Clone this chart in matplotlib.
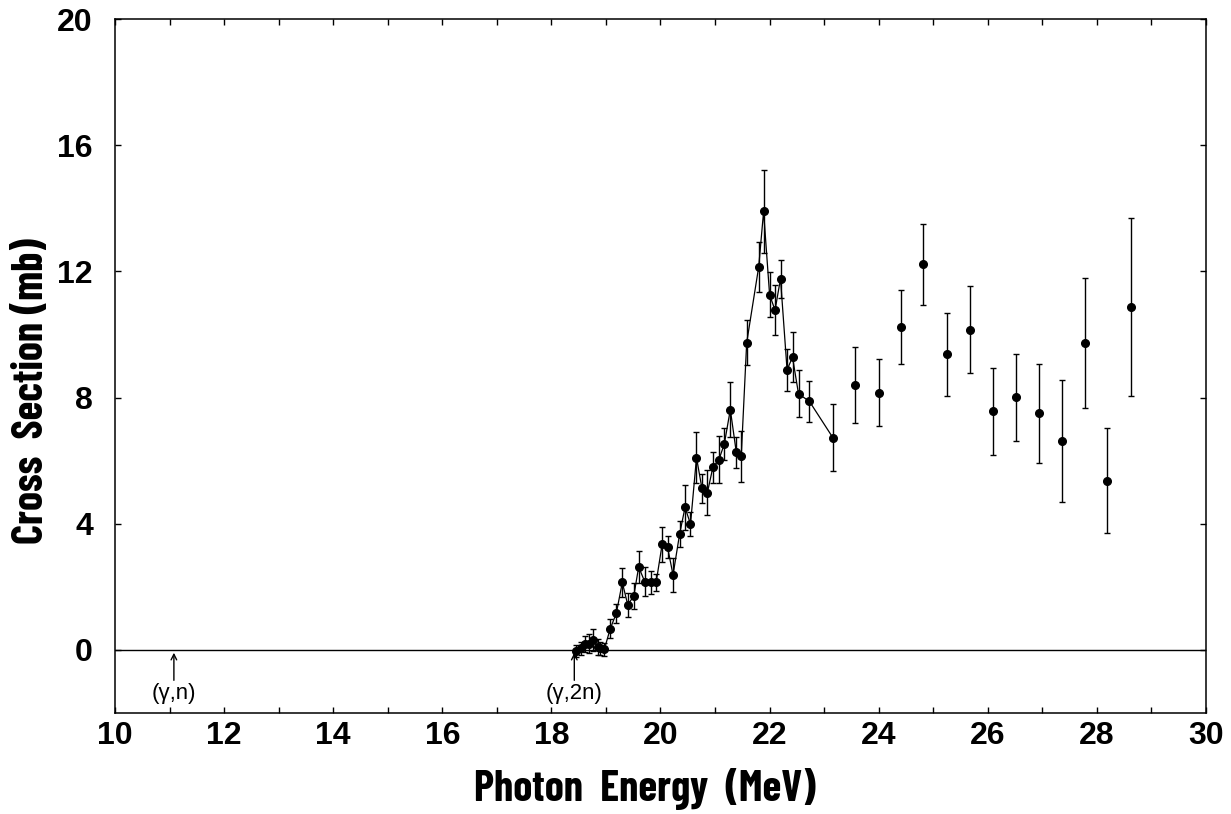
import matplotlib.pyplot as plt

# data
energy_fit = [18.46, 18.55, 18.61, 18.69, 18.76, 18.85, 18.90, 18.97, 19.08, 19.19,
              19.30, 19.40, 19.51, 19.60, 19.71, 19.82, 19.92, 20.03, 20.13, 20.23,
              20.35, 20.45, 20.55, 20.66, 20.76, 20.86, 20.96, 21.07, 21.17, 21.28,
              21.39, 21.48, 21.58, 21.80, 21.89, 22.00, 22.10, 22.20, 22.32, 22.42,
              22.53, 22.73, 23.16]
sigma_fit = [-0.03, 0.05, 0.18, 0.20, 0.31, 0.10, 0.05, 0.02, 0.68, 1.16,
             2.14, 1.43, 1.71, 2.63, 2.17, 2.14, 2.14, 3.35, 3.25, 2.38,
             3.67, 4.52, 3.99, 6.10, 5.12, 4.99, 5.79, 6.03, 6.53, 7.62,
             6.26, 6.14, 9.74, 12.14, 13.90, 11.26, 10.77, 11.77, 8.88, 9.28,
             8.12, 7.88, 6.73]
err_fit = [0.2, 0.2, 0.25, 0.3, 0.35, 0.25, 0.2, 0.2, 0.3, 0.3,
           0.46, 0.37, 0.4, 0.5, 0.45, 0.35, 0.27, 0.55, 0.35, 0.53,
           0.41, 0.71, 0.37, 0.8, 0.46, 0.7, 0.5, 0.75, 0.5, 0.87,
           0.5, 0.8, 0.71, 0.8, 1.33, 0.72, 0.8, 0.6, 0.67, 0.8,
           0.75, 0.64, 1.07]

energy_hi = [23.57, 24.00, 24.41, 24.82, 25.25, 25.67, 26.09, 26.51, 26.93,
             27.36, 27.78, 28.19, 28.62]
sigma_hi = [8.40, 8.16, 10.24, 12.22, 9.37, 10.15, 7.56, 8.01, 7.50,
            6.63, 9.73, 5.37, 10.87]
err_hi = [1.2, 1.05, 1.18, 1.28, 1.32, 1.38, 1.39, 1.37, 1.56,
          1.93, 2.05, 1.66, 2.81]

thresholds = [11.08, 18.42]
threshold_labels = ['(γ,n)', '(γ,2n)']

xticks = [10, 12, 14, 16, 18, 20, 22, 24, 26, 28, 30]
yticks = [0, 4, 8, 12, 16, 20]

tick_fam = ['Liberation Sans', 'Arimo', 'Roboto', 'DejaVu Sans']
title_fam = ['Barlow Condensed', 'Roboto Condensed', 'DejaVu Sans']

fig = plt.figure(figsize=(12.31, 8.14), dpi=100)
ax = fig.add_axes([0.0934, 0.124, 0.8863, 0.8526])

# zero line
ax.axhline(0, color='k', lw=1.0)

# measured points + guide line
ax.plot(energy_fit, sigma_fit, color='k', lw=0.9)
ax.errorbar(energy_fit, sigma_fit, yerr=err_fit, fmt='o', color='k', ms=5.5,
            elinewidth=1.0, capsize=2.5, capthick=1.0)
ax.errorbar(energy_hi, sigma_hi, yerr=err_hi, fmt='o', color='k', ms=5.5,
            elinewidth=1.0, capsize=2.5, capthick=1.0)

# threshold arrows
for e, lab in zip(thresholds, threshold_labels):
    ax.annotate('', xy=(e, 0), xytext=(e, -1.05),
                arrowprops=dict(arrowstyle='->', lw=1.0, color='k'))
    ax.text(e, -1.38, lab, ha='center', va='center', fontsize=16,
            family=tick_fam)

ax.set_xlim(10, 30)
ax.set_ylim(-2, 20)
ax.set_xticks(xticks)
ax.set_xticks(range(10, 31), minor=True)
ax.set_yticks(yticks)
ax.tick_params(which='both', direction='in', top=True, right=True,
               length=4.5, width=1.0)
ax.tick_params(axis='x', which='major', pad=6)
ax.tick_params(axis='y', which='major', pad=16)
for lab in ax.get_xticklabels() + ax.get_yticklabels():
    lab.set_fontsize(23)
    lab.set_fontweight('bold')
    lab.set_family(tick_fam)
for s in ax.spines.values():
    s.set_linewidth(1.1)

# axis titles
label_font = dict(fontsize=31, fontweight='bold', family=title_fam)
fig.text(645 / 1231, 1 - 789 / 814, 'Photon  Energy  (MeV)',
         ha='center', va='center', **label_font)
fig.text(32 / 1231, 1 - 391 / 814, 'Cross  Section (mb)',
         ha='center', va='center', rotation=90, **label_font)

fig.savefig('out.png', dpi=100)
